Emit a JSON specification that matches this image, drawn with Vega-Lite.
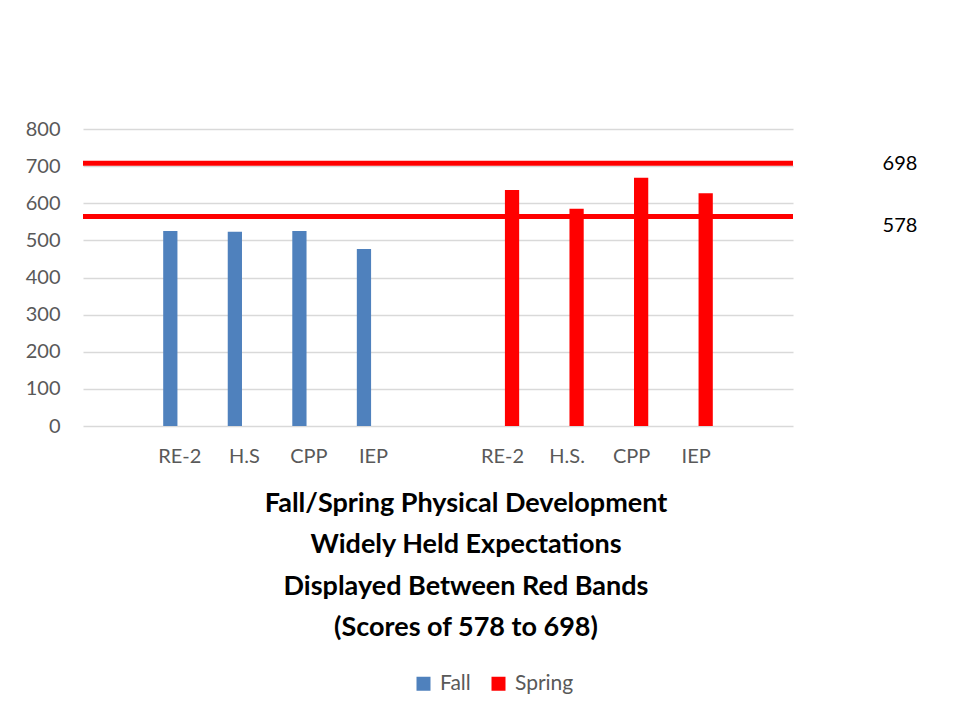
{
  "$schema": "https://vega.github.io/schema/vega-lite/v6.json",
  "width": 710,
  "height": 297,
  "autosize": {"type": "none"},
  "padding": {"left": 83, "top": 129, "right": 161, "bottom": 291},
  "background": "white",
  "config": {
    "view": {"stroke": null},
    "font": "Lato"
  },
  "encoding": {
    "y": {
      "field": "score",
      "type": "quantitative",
      "scale": {"domain": [0, 800]},
      "axis": {
        "values": [0, 100, 200, 300, 400, 500, 600, 700, 800],
        "labelOverlap": false,
        "labelFontSize": 20,
        "labelColor": "#595959",
        "labelPadding": 23,
        "ticks": false,
        "domain": false,
        "gridColor": "#d9d9d9",
        "gridWidth": 1.5,
        "title": null
      }
    }
  },
  "layer": [
    {
      "data": {
        "values": [
          {"slot": 1, "season": "Fall", "score": 525},
          {"slot": 2, "season": "Fall", "score": 523},
          {"slot": 3, "season": "Fall", "score": 525},
          {"slot": 4, "season": "Fall", "score": 477},
          {"slot": 6, "season": "Spring", "score": 636},
          {"slot": 7, "season": "Spring", "score": 585},
          {"slot": 8, "season": "Spring", "score": 669},
          {"slot": 9, "season": "Spring", "score": 627}
        ]
      },
      "mark": {"type": "bar"},
      "encoding": {
        "x": {
          "field": "slot",
          "type": "ordinal",
          "scale": {"domain": [0, 1, 2, 3, 4, 5, 6, 7, 8, 9, 10], "paddingInner": 0.485, "paddingOuter": 0.2425},
          "axis": {
            "labelExpr": "['','RE-2','H.S','CPP','IEP','','RE-2','H.S.','CPP','IEP',''][datum.value]",
            "labelAngle": 0,
            "labelFontSize": 20,
            "labelColor": "#595959",
            "labelPadding": 20,
            "ticks": false,
            "domain": false,
            "title": ["Fall/Spring Physical Development", "Widely Held Expectations", "Displayed Between Red Bands", "(Scores of 578 to 698)"],
            "titleFont": "Lato",
            "titleFontWeight": "bold",
            "titleFontSize": 27,
            "titleLineHeight": 41.5,
            "titleColor": "black",
            "titlePadding": 24,
            "titleX": 382.5
          }
        },
        "xOffset": {
          "field": "season",
          "type": "nominal",
          "scale": {"domain": ["Fall", "Spring"], "paddingInner": 0.25, "paddingOuter": 0}
        },
        "color": {
          "field": "season",
          "type": "nominal",
          "scale": {"domain": ["Fall", "Spring"], "range": ["#4F81BD", "#FF0000"]},
          "legend": {
            "title": null,
            "orient": "none",
            "direction": "horizontal",
            "legendX": 330,
            "legendY": 544,
            "symbolType": "square",
            "symbolSize": 196,
            "symbolStrokeWidth": 0,
            "symbolOpacity": 1,
            "labelFontSize": 21,
            "labelColor": "#595959",
            "labelOffset": 6,
            "columnPadding": 17
          }
        }
      }
    },
    {
      "data": {"values": [{"label": "698", "score": 708}, {"label": "578", "score": 564}]},
      "mark": {"type": "rule", "color": "#FF0000", "strokeWidth": 5},
      "encoding": {}
    },
    {
      "data": {"values": [{"label": "698", "score": 708}]},
      "mark": {"type": "text", "fontSize": 20, "color": "black", "align": "center", "baseline": "middle", "dx": 107, "dy": 1},
      "encoding": {
        "x": {"value": "width"},
        "text": {"field": "label"}
      }
    },
    {
      "data": {"values": [{"label": "578", "score": 564}]},
      "mark": {"type": "text", "fontSize": 20, "color": "black", "align": "center", "baseline": "middle", "dx": 107, "dy": 9},
      "encoding": {
        "x": {"value": "width"},
        "text": {"field": "label"}
      }
    }
  ]
}
